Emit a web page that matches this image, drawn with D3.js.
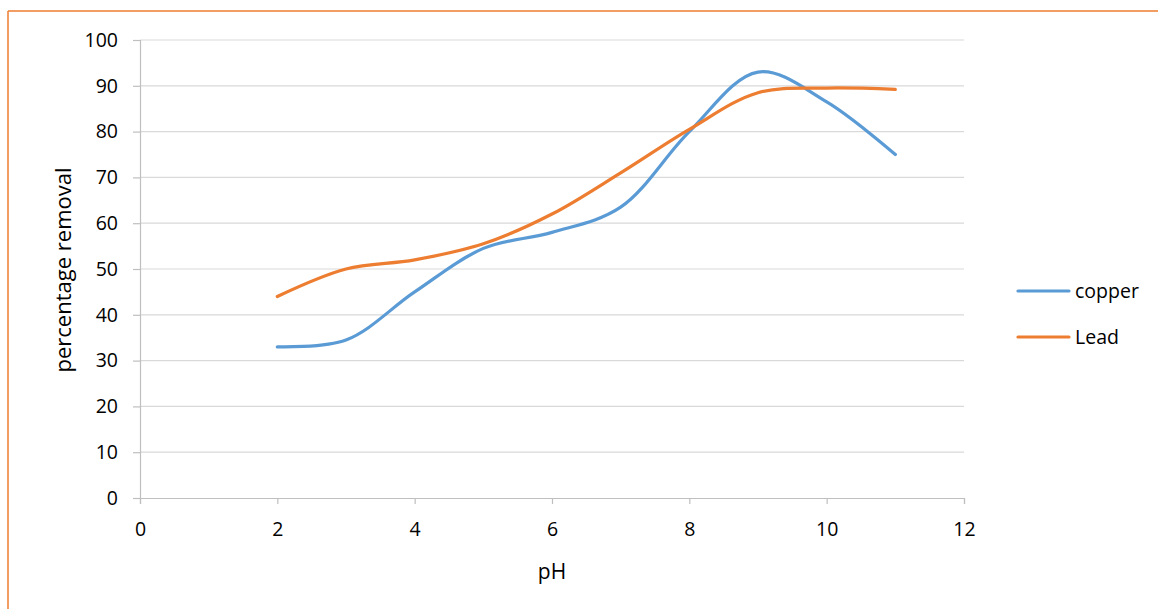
<!DOCTYPE html>
<html>
<head>
<meta charset="utf-8">
<script src="https://cdn.jsdelivr.net/npm/d3@7"></script>
<style>
  html, body { margin: 0; padding: 0; background: #fff; }
  svg { display: block; }
  text { font-family: "Open Sans", "Liberation Sans", sans-serif; fill: #000; }
</style>
</head>
<body>
<svg id="chart" width="1158" height="609"></svg>
<script>
// pH readings and percentage removal for each metal
const pH = [2, 3, 4, 5, 6, 7, 8, 9, 10, 11];
const copper = [33, 34.5, 45, 54.5, 58, 63.5, 80, 93, 86.5, 75];
const lead = [44, 50, 52, 55.5, 62, 71, 80.5, 88.5, 89.5, 89.2];
const xTicks = [0, 2, 4, 6, 8, 10, 12];
const yTicks = [0, 10, 20, 30, 40, 50, 60, 70, 80, 90, 100];
const seriesNames = ["copper", "Lead"];
const seriesColors = ["#5B9BD5", "#ED7D31"];

const FONT = "'Open Sans', 'Liberation Sans', sans-serif";
const svg = d3.select("#chart");

// frame lines on the left and top
svg.append("line").attr("x1", 8).attr("x2", 8).attr("y1", 11).attr("y2", 609)
  .attr("stroke", "#ED7D31").attr("stroke-width", 1.5);
svg.append("line").attr("x1", 8).attr("x2", 1158).attr("y1", 11).attr("y2", 11)
  .attr("stroke", "#ED7D31").attr("stroke-width", 1.5);

const x = d3.scaleLinear().domain([0, 12]).range([140, 964]);
const y = d3.scaleLinear().domain([0, 100]).range([498, 40]);

// horizontal gridlines
svg.append("g").selectAll("line").data(yTicks.filter(d => d > 0)).join("line")
  .attr("x1", x(0)).attr("x2", x(12))
  .attr("y1", d => y(d)).attr("y2", d => y(d))
  .attr("stroke", "#D9D9D9").attr("stroke-width", 1.2);

// y axis
const yAxis = svg.append("g").attr("transform", `translate(${x(0)},0)`)
  .call(d3.axisLeft(y).tickValues(yTicks).tickSize(7).tickPadding(15).tickFormat(d3.format("d")));
yAxis.select(".domain").attr("stroke", "#BFBFBF").attr("stroke-width", 1.2);
yAxis.selectAll(".tick line").attr("stroke", "#BFBFBF").attr("stroke-width", 1.2);
yAxis.selectAll("text").attr("font-size", 19.5).attr("font-family", FONT).attr("fill", "#000");

// x axis
const xAxis = svg.append("g").attr("transform", `translate(0,${y(0)})`)
  .call(d3.axisBottom(x).tickValues(xTicks).tickSize(6).tickPadding(18).tickFormat(d3.format("d")));
xAxis.select(".domain").attr("stroke", "#BFBFBF").attr("stroke-width", 1.2);
xAxis.selectAll(".tick line").attr("stroke", "#BFBFBF").attr("stroke-width", 1.2);
xAxis.selectAll("text").attr("font-size", 19.5).attr("font-family", FONT).attr("fill", "#000");

// axis titles
svg.append("text").attr("x", 552).attr("y", 579).attr("text-anchor", "middle")
  .attr("font-size", 21).text("pH");
svg.append("text").attr("transform", "translate(71,270) rotate(-90)")
  .attr("text-anchor", "middle").attr("font-size", 22).text("percentage removal");

// smoothed series lines
const line = d3.line().x(d => x(d[0])).y(d => y(d[1])).curve(d3.curveCatmullRom.alpha(0.5));
[copper, lead].forEach((vals, i) => {
  svg.append("path").datum(pH.map((p, j) => [p, vals[j]]))
    .attr("d", line).attr("fill", "none")
    .attr("stroke", seriesColors[i]).attr("stroke-width", 3.2)
    .attr("stroke-linecap", "round").attr("stroke-linejoin", "round");
});

// legend
const legend = svg.append("g");
seriesNames.forEach((name, i) => {
  const ly = 291 + i * 46;
  legend.append("line").attr("x1", 1018).attr("x2", 1069).attr("y1", ly).attr("y2", ly)
    .attr("stroke", seriesColors[i]).attr("stroke-width", 3.2).attr("stroke-linecap", "round");
  legend.append("text").attr("x", 1075).attr("y", ly + 7).attr("font-size", 19.5).text(name);
});
</script>
</body>
</html>
